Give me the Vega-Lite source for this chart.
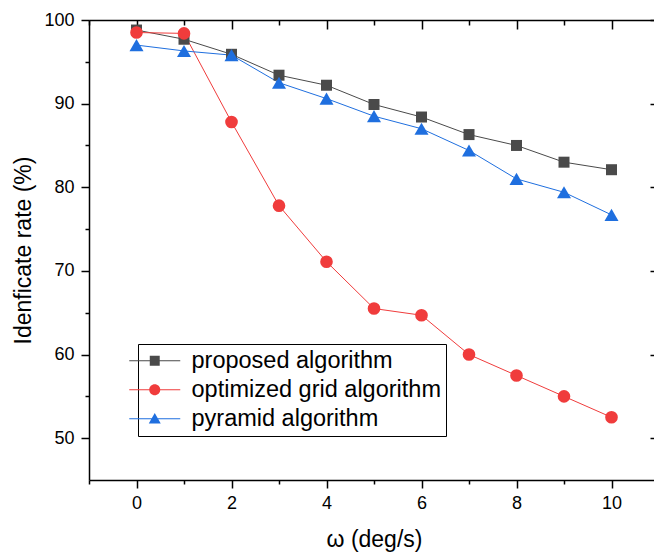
{
  "$schema": "https://vega.github.io/schema/vega-lite/v6.json",
  "width": 570,
  "height": 460,
  "autosize": {"type": "none"},
  "padding": {"left": 89, "top": 20, "right": 0, "bottom": 74},
  "background": "white",
  "config": {
    "font": "Liberation Sans",
    "view": {"stroke": null},
    "axis": {
      "domainColor": "black", "domainWidth": 1.5, "tickColor": "black", "tickWidth": 1.5,
      "labelColor": "black", "titleColor": "black", "grid": false,
      "labelFont": "Liberation Sans", "titleFont": "Liberation Sans",
      "labelFontSize": 18, "titleFontSize": 23, "titleFontWeight": "normal"
    }
  },
  "data": {
    "values": [
      {"x": 0, "rate": 98.8, "series": "proposed algorithm"},
      {"x": 1, "rate": 97.7, "series": "proposed algorithm"},
      {"x": 2, "rate": 95.9, "series": "proposed algorithm"},
      {"x": 3, "rate": 93.4, "series": "proposed algorithm"},
      {"x": 4, "rate": 92.2, "series": "proposed algorithm"},
      {"x": 5, "rate": 89.9, "series": "proposed algorithm"},
      {"x": 6, "rate": 88.4, "series": "proposed algorithm"},
      {"x": 7, "rate": 86.3, "series": "proposed algorithm"},
      {"x": 8, "rate": 85.0, "series": "proposed algorithm"},
      {"x": 9, "rate": 83.0, "series": "proposed algorithm"},
      {"x": 10, "rate": 82.1, "series": "proposed algorithm"},
      {"x": 0, "rate": 98.5, "series": "optimized grid algorithm"},
      {"x": 1, "rate": 98.4, "series": "optimized grid algorithm"},
      {"x": 2, "rate": 87.8, "series": "optimized grid algorithm"},
      {"x": 3, "rate": 77.8, "series": "optimized grid algorithm"},
      {"x": 4, "rate": 71.1, "series": "optimized grid algorithm"},
      {"x": 5, "rate": 65.5, "series": "optimized grid algorithm"},
      {"x": 6, "rate": 64.7, "series": "optimized grid algorithm"},
      {"x": 7, "rate": 60.0, "series": "optimized grid algorithm"},
      {"x": 8, "rate": 57.5, "series": "optimized grid algorithm"},
      {"x": 9, "rate": 55.0, "series": "optimized grid algorithm"},
      {"x": 10, "rate": 52.5, "series": "optimized grid algorithm"},
      {"x": 0, "rate": 97.0, "series": "pyramid algorithm"},
      {"x": 1, "rate": 96.3, "series": "pyramid algorithm"},
      {"x": 2, "rate": 95.8, "series": "pyramid algorithm"},
      {"x": 3, "rate": 92.5, "series": "pyramid algorithm"},
      {"x": 4, "rate": 90.6, "series": "pyramid algorithm"},
      {"x": 5, "rate": 88.5, "series": "pyramid algorithm"},
      {"x": 6, "rate": 87.0, "series": "pyramid algorithm"},
      {"x": 7, "rate": 84.4, "series": "pyramid algorithm"},
      {"x": 8, "rate": 81.0, "series": "pyramid algorithm"},
      {"x": 9, "rate": 79.4, "series": "pyramid algorithm"},
      {"x": 10, "rate": 76.7, "series": "pyramid algorithm"}
    ]
  },
  "layer": [
    {
      "mark": {"type": "line", "strokeWidth": 1},
      "encoding": {
        "x": {
          "field": "x", "type": "quantitative",
          "scale": {"domain": [-1, 11], "nice": false, "zero": false},
          "axis": {
            "orient": "bottom", "title": "ω (deg/s)",
            "values": [-1, 0, 1, 2, 3, 4, 5, 6, 7, 8, 9, 10, 11],
            "labelExpr": "datum.value % 2 == 0 ? datum.label : ''",
            "tickSize": {"condition": {"test": "datum.value % 2 != 0", "value": 4}, "value": 8},
            "labelPadding": 6, "titlePadding": 16, "labelFlush": false
          }
        },
        "y": {
          "field": "rate", "type": "quantitative",
          "scale": {"domain": [45, 100], "nice": false, "zero": false},
          "axis": {
            "orient": "left", "title": "Idenficate rate (%)",
            "values": [50, 55, 60, 65, 70, 75, 80, 85, 90, 95, 100],
            "labelExpr": "datum.value % 10 == 0 ? datum.label : ''",
            "tickSize": {"condition": {"test": "datum.value % 10 != 0", "value": 4}, "value": 8},
            "labelPadding": 7, "titlePadding": 8, "labelFlush": false
          }
        },
        "color": {
          "field": "series", "type": "nominal", "legend": null,
          "scale": {
            "domain": ["proposed algorithm", "optimized grid algorithm", "pyramid algorithm"],
            "range": ["#4a4a4a", "#f03c3c", "#1f6fdf"]
          }
        },
        "detail": {"field": "series"}
      }
    },
    {
      "transform": [{"filter": "datum.series == 'proposed algorithm'"}],
      "mark": {"type": "point", "filled": true, "opacity": 1, "strokeWidth": 0, "shape": "square", "size": 121},
      "encoding": {
        "x": {
          "field": "x", "type": "quantitative",
          "axis": {
            "orient": "top", "title": null, "labels": false,
            "values": [-1, 0, 1, 2, 3, 4, 5, 6, 7, 8, 9, 10, 11],
            "tickSize": {"condition": {"test": "datum.value % 2 != 0", "value": -5}, "value": -9}
          }
        },
        "y": {
          "field": "rate", "type": "quantitative",
          "axis": {
            "orient": "right", "title": null, "labels": false,
            "values": [50, 55, 60, 65, 70, 75, 80, 85, 90, 95, 100],
            "tickSize": {"condition": {"test": "datum.value % 10 != 0", "value": -5}, "value": -9}
          }
        },
        "color": {"field": "series", "type": "nominal", "legend": null}
      }
    },
    {
      "transform": [{"filter": "datum.series == 'optimized grid algorithm'"}],
      "mark": {"type": "point", "filled": true, "opacity": 1, "strokeWidth": 0, "shape": "circle", "size": 160},
      "encoding": {
        "x": {"field": "x", "type": "quantitative", "axis": null},
        "y": {"field": "rate", "type": "quantitative", "axis": null},
        "color": {"field": "series", "type": "nominal", "legend": null}
      }
    },
    {
      "transform": [{"filter": "datum.series == 'pyramid algorithm'"}],
      "mark": {"type": "point", "filled": true, "opacity": 1, "strokeWidth": 0, "shape": "triangle-up", "size": 196},
      "encoding": {
        "x": {"field": "x", "type": "quantitative", "axis": null},
        "y": {"field": "rate", "type": "quantitative", "axis": null},
        "color": {"field": "series", "type": "nominal", "legend": null}
      }
    },
    {
      "transform": [{"filter": "datum.x < -100"}],
      "mark": {
        "type": "point", "filled": true, "opacity": 1, "strokeWidth": 0, "size": 144,
        "fill": {"expr": "datum.value == 'proposed algorithm' ? '#4a4a4a' : datum.value == 'optimized grid algorithm' ? '#f03c3c' : '#1f6fdf'"}
      },
      "encoding": {
        "shape": {
          "field": "series", "type": "nominal",
          "scale": {
            "domain": ["proposed algorithm", "optimized grid algorithm", "pyramid algorithm"],
            "range": [
              "M-4.25,-0.085H4.25V0.085H-4.25Z M-0.83,-0.83H0.83V0.83H-0.83Z",
              "M-4.25,-0.085H4.25V0.085H-4.25Z M-0.92,0A0.92,0.92,0,1,1,0.92,0A0.92,0.92,0,1,1,-0.92,0Z",
              "M-4.25,-0.085H4.25V0.085H-4.25Z M0,-0.95L1,0.78L-1,0.78Z"
            ]
          },
          "legend": {
            "title": null, "orient": "none", "legendX": 49, "legendY": 324,
            "labelFont": "Liberation Sans", "labelFontSize": 23.5, "labelColor": "black",
            "labelOffset": 25, "labelLimit": 500, "symbolSize": 144, "symbolStrokeWidth": 0,
            "symbolOpacity": 1, "rowPadding": 4, "padding": 5,
            "strokeColor": "black", "fillColor": "white"
          }
        }
      }
    }
  ],
  "resolve": {
    "scale": {"shape": "independent"},
    "legend": {"shape": "independent"},
    "axis": {"x": "independent", "y": "independent"}
  }
}
